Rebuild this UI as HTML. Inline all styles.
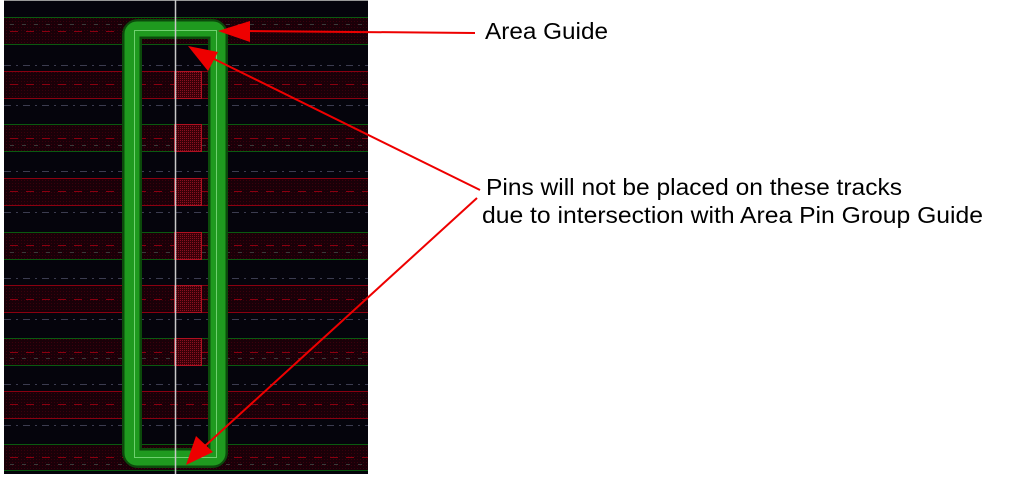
<!DOCTYPE html>
<html><head><meta charset="utf-8"><style>
html,body{margin:0;padding:0;background:#fff;}
svg{display:block;}
text{font-family:"Liberation Sans",Arial,sans-serif;fill:#000;}
</style></head><body>
<svg width="1013" height="478" viewBox="0 0 1013 478" xmlns="http://www.w3.org/2000/svg">
<defs>
<pattern id="hatch" width="3" height="3" patternUnits="userSpaceOnUse">
<rect width="3" height="3" fill="#1a0008"/><rect width="1" height="1" fill="#3a000c"/>
</pattern>
<pattern id="pin" width="2" height="2" patternUnits="userSpaceOnUse">
<rect width="2" height="2" fill="#3a0008"/><rect width="1" height="1" fill="#8a1020"/>
</pattern>
</defs>
<rect x="4" y="0" width="364" height="474" fill="#05040c"/>
<line x1="4" y1="0.5" x2="368" y2="0.5" stroke="#999" stroke-width="1"/>
<rect x="4" y="17" width="364" height="27" fill="url(#hatch)"/>
<rect x="4" y="71" width="364" height="27" fill="url(#hatch)"/>
<rect x="4" y="124" width="364" height="28" fill="url(#hatch)"/>
<rect x="4" y="178" width="364" height="27" fill="url(#hatch)"/>
<rect x="4" y="232" width="364" height="27" fill="url(#hatch)"/>
<rect x="4" y="285" width="364" height="28" fill="url(#hatch)"/>
<rect x="4" y="338" width="364" height="27" fill="url(#hatch)"/>
<rect x="4" y="391" width="364" height="27" fill="url(#hatch)"/>
<rect x="4" y="444" width="364" height="26" fill="url(#hatch)"/>
<g stroke-width="1">
<path d="M4 17.5H368M4 44.5H368" stroke="#0a5a10"/>
<path d="M4 71.5H368M4 98.5H368" stroke="#8a0010"/>
<path d="M4 124.5H368M4 151.5H368" stroke="#0a5a10"/>
<path d="M4 178.5H368M4 205.5H368" stroke="#8a0010"/>
<path d="M4 232.5H368M4 259.5H368" stroke="#0a5a10"/>
<path d="M4 285.5H368M4 312.5H368" stroke="#8a0010"/>
<path d="M4 338.5H368M4 365.5H368" stroke="#0a5a10"/>
<path d="M4 391.5H368M4 418.5H368" stroke="#8a0010"/>
<path d="M4 444.5H368M4 470.5H368" stroke="#0a5a10"/>
</g>
<g stroke="#8a0010" stroke-width="1" stroke-dasharray="8,8">
<path d="M10 31.5H368M10 84.5H368M10 138.5H368M10 191.5H368M10 245.5H368M10 299.5H368M10 352.5H368M10 404.5H368M10 457.5H368"/>
</g>
<g stroke="#3c3c50" stroke-width="1" stroke-dasharray="7,5,2,5">
<path d="M4 65.5H368M4 105.5H368M4 171.5H368M4 212.5H368M4 278.5H368M4 319.5H368M4 384.5H368M4 425.5H368"/>
</g>
<g stroke="#3a3a3a" stroke-width="1" stroke-dasharray="4,8">
<path d="M10 24.5H368M10 145.5H368M10 252.5H368M10 358.5H368M10 464.5H368"/>
</g>
<g fill="url(#pin)" stroke="#b01020" stroke-width="1">
<rect x="174.5" y="71.5" width="27" height="27"/>
<rect x="174.5" y="124.5" width="27" height="27"/>
<rect x="174.5" y="178.5" width="27" height="27"/>
<rect x="174.5" y="232.5" width="27" height="27"/>
<rect x="174.5" y="285.5" width="27" height="27"/>
<rect x="174.5" y="338.5" width="27" height="27"/>
</g>
<rect x="132" y="29" width="86" height="429" rx="6" fill="none" stroke="#0b4a0b" stroke-width="20"/>
<rect x="132" y="29" width="86" height="429" rx="5" fill="none" stroke="#1f9a1f" stroke-width="15"/>
<rect x="134.5" y="30.5" width="82" height="427" fill="none" stroke="#6ed06e" stroke-width="1"/>
<line x1="175.5" y1="0" x2="175.5" y2="474" stroke="#c8c8c8" stroke-width="1.5"/>
<g stroke="#ee0000" stroke-width="2" fill="none">
<line x1="475" y1="33" x2="245" y2="31"/>
<line x1="480" y1="190" x2="210" y2="57"/>
<line x1="477" y1="198" x2="205" y2="446"/>
</g>
<g fill="#ee0000">
<polygon points="218,31 250,21 250,42"/>
<polygon points="188,46 218,52 208,71"/>
<polygon points="186,465 196,436 213,452"/>
</g>
<text x="485" y="39" font-size="23" textLength="123" lengthAdjust="spacingAndGlyphs">Area Guide</text>
<text x="486" y="195" font-size="23" textLength="416" lengthAdjust="spacingAndGlyphs">Pins will not be placed on these tracks</text>
<text x="482" y="223" font-size="23" textLength="501" lengthAdjust="spacingAndGlyphs">due to intersection with Area Pin Group Guide</text>
</svg>
</body></html>
